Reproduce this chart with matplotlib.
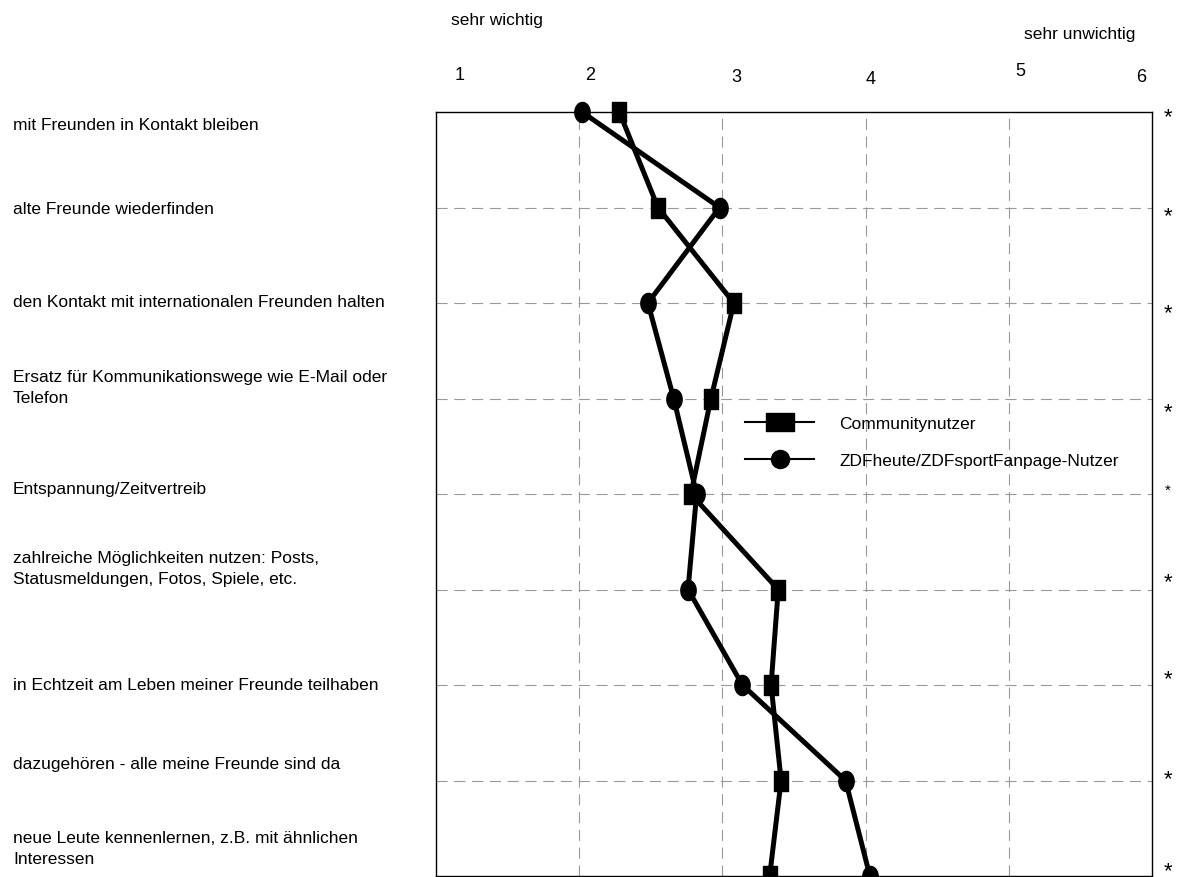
import matplotlib
matplotlib.use("Agg")
import matplotlib.pyplot as plt
from matplotlib.path import Path
from matplotlib.lines import Line2D
import numpy as np

plt.rcParams['font.family'] = ['Liberation Sans', 'DejaVu Sans']

# ---------------- data ----------------
categories = [
    "mit Freunden in Kontakt bleiben",
    "alte Freunde wiederfinden",
    "den Kontakt mit internationalen Freunden halten",
    "Ersatz für Kommunikationswege wie E-Mail oder\nTelefon",
    "Entspannung/Zeitvertreib",
    "zahlreiche Möglichkeiten nutzen: Posts,\nStatusmeldungen, Fotos, Spiele, etc.",
    "in Echtzeit am Leben meiner Freunde teilhaben",
    "dazugehören - alle meine Freunde sind da",
    "neue Leute kennenlernen, z.B. mit ähnlichen\nInteressen",
]
community = [2.28, 2.55, 3.08, 2.92, 2.78, 3.39, 3.34, 3.41, 3.33]
zdf = [2.02, 2.98, 2.48, 2.66, 2.82, 2.76, 3.14, 3.86, 4.03]
series_names = ["Communitynutzer", "ZDFheute/ZDFsportFanpage-Nutzer"]
scale_labels = ["1", "2", "3", "4", "5", "6"]
end_labels = ["sehr wichtig", "sehr unwichtig"]
signif = ["*"] * 9

# ---------------- layout ----------------
W, H = 1181, 878
def fx(x): return x / W
def fy(y): return 1 - y / H

fig = plt.figure(figsize=(W / 100, H / 100), dpi=100)
ax = fig.add_axes([fx(436), fy(877), (1152 - 436) / W, (877 - 113) / H])

rows = np.arange(1, len(categories) + 1)
ax.set_xlim(1, 6)
ax.set_ylim(len(categories), 1)
ax.set_xticks([2, 3, 4, 5])
ax.set_yticks(rows[1:-1])
ax.tick_params(length=0, labelbottom=False, labelleft=False)
ax.grid(True, color='#999999', lw=0.8, ls=(0, (10, 6)))
for s in ax.spines.values():
    s.set_color('black')
    s.set_linewidth(1.0)

# custom markers (stretched as in the reference)
sq_data = Path([(-0.35, -0.5), (0.35, -0.5), (0.35, 0.5), (-0.35, 0.5), (-0.35, -0.5)],
               [Path.MOVETO, Path.LINETO, Path.LINETO, Path.LINETO, Path.CLOSEPOLY])
t = np.linspace(0, 2 * np.pi, 60)
el_data = Path(np.column_stack([0.38 * np.cos(t), 0.5 * np.sin(t)]))
sq_leg = Path([(-0.5, -0.35), (0.5, -0.35), (0.5, 0.35), (-0.5, 0.35), (-0.5, -0.35)],
              [Path.MOVETO, Path.LINETO, Path.LINETO, Path.LINETO, Path.CLOSEPOLY])

ax.plot(community, rows, color='black', lw=3.6, marker=sq_data, ms=14.5,
        mfc='black', mec='black', clip_on=False, zorder=3)
ax.plot(zdf, rows, color='black', lw=3.6, marker=el_data, ms=14.5,
        mfc='black', mec='black', clip_on=False, zorder=3)

handles = [
    Line2D([], [], color='black', lw=1.5, marker=sq_leg, ms=19.5, mfc='black', mec='black'),
    Line2D([], [], color='black', lw=1.5, marker='o', ms=13, mfc='black', mec='black'),
]
leg = ax.legend(handles, series_names, loc='upper left',
                bbox_to_anchor=(fx(745), fy(417)), bbox_transform=fig.transFigure,
                frameon=False, fontsize=12.5, handlelength=4.0, handletextpad=1.45,
                labelspacing=1.25, borderpad=0, borderaxespad=0)

# category labels on the left
label_y = [125, 209, 303, 388, 490, 569, 686, 765, 849]
for lab, y in zip(categories, label_y):
    fig.text(fx(13), fy(y), lab, fontsize=12.5, ha='left', va='center', linespacing=1.45)

# scale numbers at top
scale_pos = [(460, 75), (590, 75), (736, 78), (871, 80), (1020, 72), (1141, 78)]
for lab, (x, y) in zip(scale_labels, scale_pos):
    fig.text(fx(x), fy(y), lab, fontsize=13, ha='center', va='center')

fig.text(fx(497), fy(20), end_labels[0], fontsize=12.5, ha='center', va='center')
fig.text(fx(1080), fy(35), end_labels[1], fontsize=12.5, ha='center', va='center')

# significance asterisks
ast_y = [118, 217, 314, 413, 491, 583, 680, 780, 872]
for i, (s, y) in enumerate(zip(signif, ast_y)):
    fig.text(fx(1168), fy(y), s, fontsize=11 if i == 4 else 16, ha='center', va='center')

fig.savefig("out.png", dpi=100)
